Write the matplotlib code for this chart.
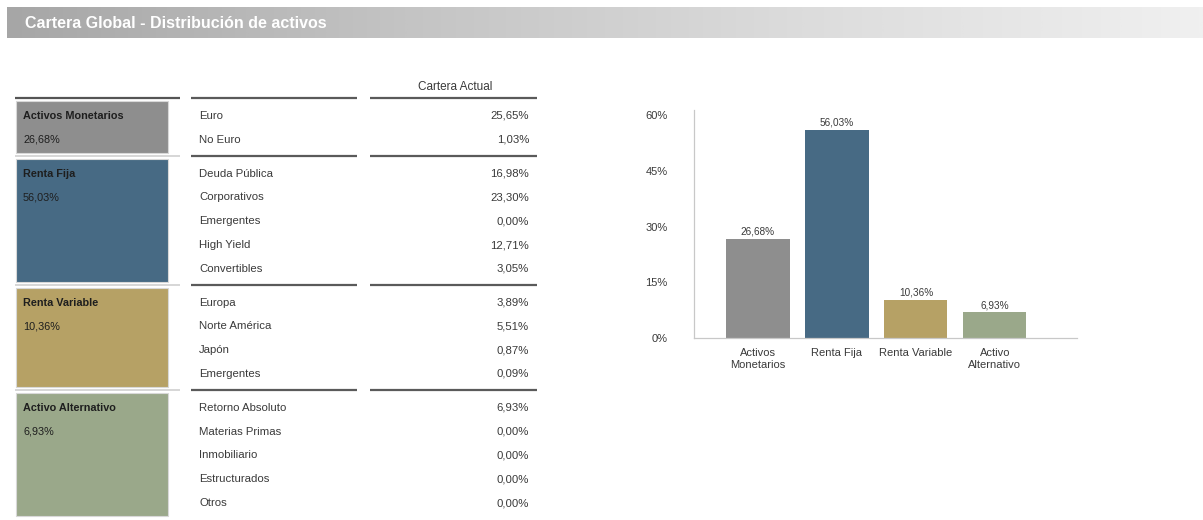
import numpy as np
import matplotlib
matplotlib.use("Agg")
import matplotlib.pyplot as plt
from matplotlib.patches import Rectangle
from matplotlib.colors import LinearSegmentedColormap

plt.rcParams['font.family'] = ['Liberation Sans', 'DejaVu Sans']

# ---------------- data ----------------
title = "Cartera Global - Distribución de activos"
column_header = "Cartera Actual"
categories = ["Activos Monetarios", "Renta Fija", "Renta Variable", "Activo Alternativo"]
category_values = [26.68, 56.03, 10.36, 6.93]
category_colors = ["#8e8e8e", "#476a84", "#b6a165", "#9aa88a"]
sub_labels = [
    ["Euro", "No Euro"],
    ["Deuda Pública", "Corporativos", "Emergentes", "High Yield", "Convertibles"],
    ["Europa", "Norte América", "Japón", "Emergentes"],
    ["Retorno Absoluto", "Materias Primas", "Inmobiliario", "Estructurados", "Otros"],
]
sub_values = [
    [25.65, 1.03],
    [16.98, 23.30, 0.00, 12.71, 3.05],
    [3.89, 5.51, 0.87, 0.09],
    [6.93, 0.00, 0.00, 0.00, 0.00],
]
bar_labels = ["Activos\nMonetarios", "Renta Fija", "Renta Variable", "Activo\nAlternativo"]
y_ticks = [0, 15, 30, 45, 60]


def fmt(v):
    return f"{v:.2f}".replace(".", ",") + "%"


W, H = 1203, 520
fig = plt.figure(figsize=(W / 100, H / 100), dpi=100)
bg = fig.add_axes([0, 0, 1, 1])
bg.set_xlim(0, W)
bg.set_ylim(H, 0)
bg.axis("off")

# header gradient bar
grad = np.linspace(0, 1, 512)[None, :]
cmap = LinearSegmentedColormap.from_list("hdr", ["#a6a6a6", "#c4c4c4", "#dcdcdc", "#f0f0f0"])
bg.imshow(grad, cmap=cmap, extent=[7, W, 38, 7], aspect="auto", zorder=0)
bg.text(25, 23, title, color="white", fontsize=11.5, fontweight="bold", va="center", ha="left")

# table
row_h = 23.8
text_col = "#3a3a3a"
fs = 8.2
bg.text(455, 87, column_header, fontsize=8.5, color=text_col, ha="center", va="center")

y = 98
for gi, (cat, cv, col, subs, svals) in enumerate(zip(categories, category_values, category_colors, sub_labels, sub_values)):
    lc = "#555555" if gi == 0 else "#d0d0d0"
    bg.plot([15, 180], [y, y], color=lc, lw=1.6 if gi == 0 else 1.2, solid_capstyle="butt")
    bg.plot([191, 357], [y, y], color="#5a5a5a", lw=1.6, solid_capstyle="butt")
    bg.plot([370, 537], [y, y], color="#5a5a5a", lw=1.6, solid_capstyle="butt")
    top = y + 3
    n = len(subs)
    height = n * row_h + 4
    bg.add_patch(Rectangle((16, top), 152, height, facecolor=col, edgecolor="#d8d8d8", lw=0.8))
    bg.text(23, top + 15, cat, fontsize=7.8, color="#1e1e1e", fontweight="bold", va="center")
    bg.text(23, top + 15 + row_h, fmt(cv), fontsize=7.8, color="#1e1e1e", va="center")
    for ri, (s, v) in enumerate(zip(subs, svals)):
        ry = top + 15 + ri * row_h
        bg.text(199, ry, s, fontsize=fs, color=text_col, va="center")
        bg.text(529, ry, fmt(v), fontsize=fs, color=text_col, va="center", ha="right")
    y = top + height + 3

# bar chart
ymax = 61.4
ax = fig.add_axes([694 / W, (H - 338) / H, (1077 - 694) / W, (338 - 110) / H])
x = np.arange(len(categories))
ax.bar(x, category_values, width=0.8, color=category_colors)
ax.set_xlim(-0.81, len(categories) - 1 + 1.04)
ax.set_ylim(0, ymax)
ax.set_yticks(y_ticks)
ax.set_yticklabels([f"{t}%" for t in y_ticks])
ax.set_xticks(x)
ax.set_xticklabels(bar_labels, linespacing=1.3)
ax.tick_params(axis="y", length=0, pad=19, labelsize=8, labelcolor=text_col)
ax.tick_params(axis="x", length=0, pad=7, labelsize=8, labelcolor=text_col)
for sp in ["top", "right"]:
    ax.spines[sp].set_visible(False)
for sp in ["left", "bottom"]:
    ax.spines[sp].set_color("#c8c8c8")
    ax.spines[sp].set_linewidth(0.9)
for xi, v in zip(x, category_values):
    ax.text(xi, v + 0.6, fmt(v), ha="center", va="bottom", fontsize=7.2, color=text_col)

fig.savefig("out.png", dpi=100)
